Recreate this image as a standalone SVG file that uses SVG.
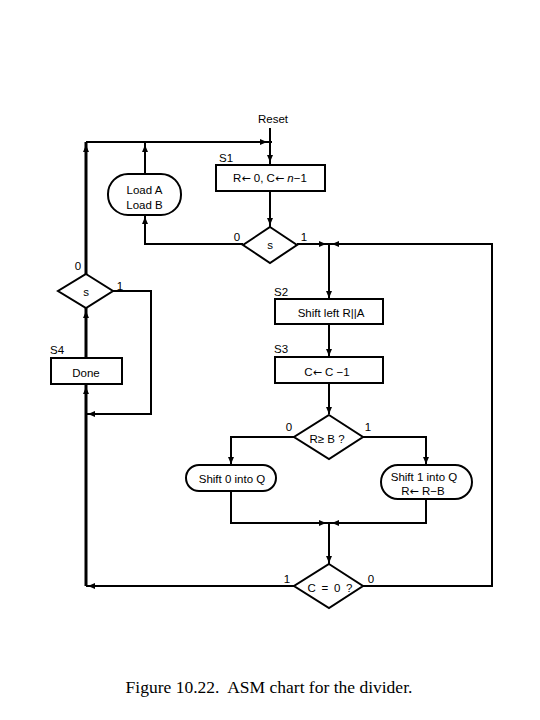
<svg xmlns="http://www.w3.org/2000/svg" width="540" height="720" viewBox="0 0 540 720">
<defs>
<marker id="ah" markerUnits="userSpaceOnUse" markerWidth="7" markerHeight="6" refX="7" refY="3" orient="auto">
<path d="M0,0 L7,3 L0,6 z" fill="#000"/>
</marker>
<style>
.b{fill:#fff;stroke:#000;stroke-width:2}
.c{fill:none;stroke:#000;stroke-width:2}
.a{fill:none;stroke:#000;stroke-width:2;marker-end:url(#ah)}
.t{font-family:"Liberation Sans",Arial,sans-serif;font-size:11.5px;fill:#000}
.m{text-anchor:middle}
.ar{font-family:"DejaVu Sans",sans-serif;font-size:11px}
.cap{font-family:"Liberation Serif","Times New Roman",serif;font-size:17.5px;fill:#000;text-anchor:middle}
</style>
</defs>
<rect width="540" height="720" fill="#fff"/>
<g id="connectors">
<path class="c" d="M270,128 V164"/>
<path class="a" d="M270,150 V162"/>
<path class="c" d="M86,142 H272"/>
<path class="a" d="M250,142 H267"/>
<path class="c" d="M270,191 V227"/>
<path class="a" d="M270,210 V225"/>
<path class="c" d="M243,244 H145 V215"/>
<path class="a" d="M145,230 V217"/>
<path class="c" d="M145,174 V142"/>
<path class="a" d="M145,160 V145"/>
<path class="c" d="M297,244 H329"/>
<path class="a" d="M310,244 H326"/>
<path class="c" d="M363,586 H492 V244 H329"/>
<path class="a" d="M350,244 H332"/>
<path class="c" d="M329,244 V299"/>
<path class="a" d="M329,280 V298"/>
<path class="a" d="M329,324 V356"/>
<path class="a" d="M329,383 V414"/>
<path class="c" d="M294,437 H231 V465"/>
<path class="a" d="M231,450 V464"/>
<path class="c" d="M363,437 H426 V465"/>
<path class="a" d="M426,450 V464"/>
<path class="c" d="M231,491 V523 H329"/>
<path class="a" d="M310,523 H326"/>
<path class="c" d="M426,499 V523 H329"/>
<path class="a" d="M350,523 H332"/>
<path class="c" d="M329,523 V564"/>
<path class="a" d="M329,545 V563"/>
<path class="c" d="M294,586 H86"/>
<path class="a" d="M110,586 H88"/>
<path class="c" d="M86,586 V142" style="stroke-width:3"/>
<path class="a" d="M86,400 V387"/>
<path class="a" d="M86,325 V311"/>
<path class="a" d="M86,160 V145"/>
<path class="c" d="M113,291 H151 V414 H86"/>
<path class="a" d="M110,414 H88"/>
</g>
<g id="reset"><text class="t m" x="273" y="123">Reset</text></g>
<g id="s1">
<text class="t" x="219" y="162">S1</text>
<rect class="b" x="216" y="165" width="109" height="26"/>
<text class="t m" x="270" y="182">R<tspan class="ar">←</tspan> 0, C<tspan class="ar">←</tspan> <tspan font-style="italic">n</tspan>−1</text>
</g>
<g id="load">
<rect class="b" x="108" y="174" width="73" height="41" rx="20" ry="20"/>
<text class="t m" x="144.5" y="194">Load A</text>
<text class="t m" x="144.5" y="209">Load B</text>
</g>
<g id="dec-s1">
<polygon class="b" points="270,227 297,245 270,263 243,245"/>
<text class="t m" x="270" y="249">s</text>
<text class="t m" x="237" y="241">0</text>
<text class="t m" x="304" y="241">1</text>
</g>
<g id="dec-s4">
<polygon class="b" points="86,274 113,291 86,308 58,291"/>
<text class="t m" x="86" y="296">s</text>
<text class="t m" x="78" y="270">0</text>
<text class="t m" x="120" y="290">1</text>
</g>
<g id="s4">
<text class="t" x="50" y="354">S4</text>
<rect class="b" x="51" y="358" width="71" height="26"/>
<text class="t m" x="86" y="377">Done</text>
</g>
<g id="s2">
<text class="t" x="274" y="296">S2</text>
<rect class="b" x="275" y="299" width="108" height="25"/>
<text class="t m" x="331" y="317">Shift left R||A</text>
</g>
<g id="s3">
<text class="t" x="274" y="353">S3</text>
<rect class="b" x="275" y="357" width="108" height="26"/>
<text class="t m" x="327" y="376">C<tspan class="ar">←</tspan> C −1</text>
</g>
<g id="dec-rb">
<polygon class="b" points="329,415 363,437 329,459 294,437"/>
<text class="t m" x="327" y="443">R≥ B ?</text>
<text class="t m" x="289" y="431">0</text>
<text class="t m" x="368" y="431">1</text>
</g>
<g id="shift0">
<rect class="b" x="186" y="465" width="90" height="26" rx="13" ry="13"/>
<text class="t m" x="232" y="483">Shift 0 into Q</text>
</g>
<g id="shift1">
<rect class="b" x="381" y="465" width="91" height="34" rx="17" ry="17"/>
<text class="t m" x="424" y="481">Shift 1 into Q</text>
<text class="t m" x="423" y="495">R<tspan class="ar">←</tspan> R−B</text>
</g>
<g id="dec-c">
<polygon class="b" points="329,564 363,586 329,608 294,586"/>
<text class="t m" x="330" y="592" word-spacing="2.5">C = 0 ?</text>
<text class="t m" x="287" y="583">1</text>
<text class="t m" x="371" y="583">0</text>
</g>
<g id="caption"><text class="cap" x="269" y="693">Figure 10.22.&#160; ASM chart for the divider.</text></g>
</svg>
